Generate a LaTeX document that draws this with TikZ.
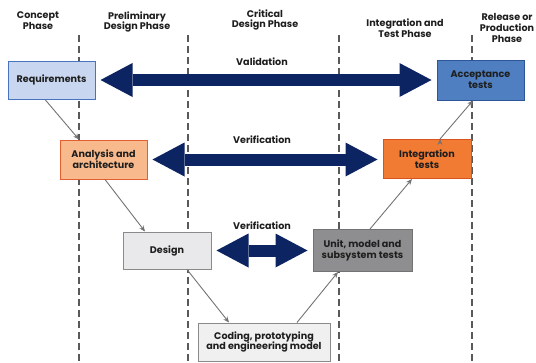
\documentclass[tikz,border=0pt]{standalone}
\usepackage{fontspec}
\setmainfont{Poppins}
\usetikzlibrary{arrows.meta}
\definecolor{azul}{HTML}{0C2461}
\definecolor{texto}{HTML}{1E1E1E}
\definecolor{reqfondo}{HTML}{C8D7EF}
\definecolor{reqborde}{HTML}{4A73BF}
\definecolor{accfondo}{HTML}{4F7FC1}
\definecolor{accborde}{HTML}{2D5699}
\definecolor{anafondo}{HTML}{F8BA8C}
\definecolor{anaborde}{HTML}{E2602F}
\definecolor{intfondo}{HTML}{F27B33}
\definecolor{intborde}{HTML}{D9531F}
\definecolor{grisclaro}{HTML}{E9E9EB}
\definecolor{grisoscuro}{HTML}{8E8E90}
\definecolor{grisborde}{HTML}{8A8A8A}
\tikzset{
	caja/.style={draw, line width=1pt, minimum width=87pt, minimum height=38pt, inner sep=2pt, align=center, text=texto, font=\bfseries\fontsize{9.6}{10.8}\selectfont}, % Cajas de las etapas
	fase/.style={align=center, text=texto, inner sep=1pt, font=\bfseries\fontsize{9.6}{10.8}\selectfont}, % Nombres de las fases
	limite/.style={dash pattern=on 7pt off 4pt, line width=1.6pt, draw=black!65}, % Separacion entre fases
	flechota/.style={line width=12pt, draw=azul, {Triangle[length=32pt, width=34pt, line width=0pt]}-{Triangle[length=32pt, width=34pt, line width=0pt]}, shorten >=5pt, shorten <=5pt}, % Flechas de validacion y verificacion
	paso/.style={-{Stealth[length=6pt, width=5pt]}, draw=black!55, line width=0.9pt} % Flechas entre etapas
}

\begin{document}
\begin{tikzpicture}[x=1pt, y=-1pt]
	\useasboundingbox (0,0) rectangle (536,362);
	\foreach \x in {79,188,339,472}
		\draw[limite] (\x,35) -- (\x,362);
	\node[fase] (f1) at (38,21) {Concept\\Phase};
	\node[fase] (f2) at (137,22) {Preliminary\\Design Phase};
	\node[fase] (f3) at (265,20) {Critical\\Design Phase};
	\node[fase] (f4) at (405,28) {Integration and\\Test Phase};
	\node[fase] (f5) at (507,28) {Release or\\Production\\Phase};
	\node[caja, fill=reqfondo, draw=reqborde] (req) at (51.5,80) {Requirements};
	\node[caja, fill=accfondo, draw=accborde, minimum height=40pt] (acc) at (480.5,80) {Acceptance\\tests};
	\node[caja, fill=anafondo, draw=anaborde, minimum height=39pt] (ana) at (103.5,159.5) {Analysis and\\architecture};
	\node[caja, fill=intfondo, draw=intborde, minimum width=88pt, minimum height=39pt] (int) at (427,159) {Integration\\tests};
	\node[caja, fill=grisclaro, draw=grisborde, minimum width=88pt, minimum height=37pt] (des) at (167,250.5) {Design};
	\node[caja, fill=grisoscuro, draw=black!55, minimum width=99pt, minimum height=42pt] (uni) at (362.5,250.5) {Unit, model and\\subsystem tests};
	\node[caja, fill=grisclaro!70!white, draw=grisborde, minimum width=132pt] (cod) at (264,342) {Coding, prototyping\\and engineering model};
	\draw[flechota] (req) -- (acc);
	\draw[flechota] (ana.east) -- (ana.east -| int.west);
	\draw[flechota] (des) -- (uni);
	\node[fase] (val) at (262,62) {Validation};
	\node[fase] (ver1) at (262,140) {Verification};
	\node[fase] (ver2) at (262,226) {Verification};
	\draw[paso] ([xshift=-6.5pt]req.south) edge ([xshift=-24.5pt]ana.north)
		([xshift=1.5pt]ana.south) edge ([xshift=-22pt]des.north)
		([xshift=20pt]des.south) edge ([xshift=-35pt]cod.north)
		([xshift=33pt]cod.north) edge ([xshift=-24.5pt]uni.south)
		([xshift=7.5pt]uni.north) edge ([xshift=-15pt]int.south)
		([xshift=13pt]int.north) edge ([xshift=-7.5pt]acc.south);
\end{tikzpicture}
\end{document}
